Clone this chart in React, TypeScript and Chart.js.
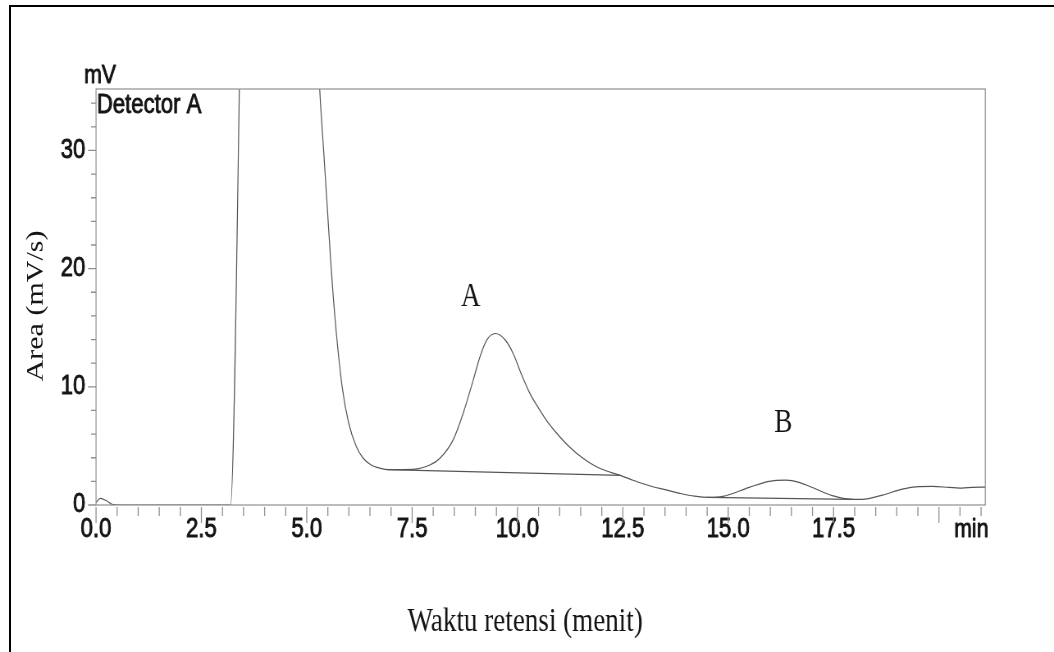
import { useEffect, useRef } from 'react';
import { Chart, registerables } from 'chart.js';

Chart.register(...registerables);

// Retention time (min) and detector response (mV) of the chromatogram trace.
// The solvent front rises far above the plotted range and is clipped.
const retentionTime = [
  0, 0.1, 0.25, 0.4, 0.6, 3.0, 3.19, 3.42, 3.7, 4.2, 4.6, 4.9, 5.15, 5.31,
  5.4, 5.49, 5.58, 5.69, 5.84, 5.99, 6.17, 6.33, 6.52, 6.75, 6.95, 7.52, 7.92,
  8.16, 8.47, 8.71, 8.95, 9.11, 9.27, 9.48, 9.7, 9.9, 10.1, 10.3, 10.5, 10.7,
  10.9, 11.1, 11.3, 11.5, 11.7, 11.9, 12.1, 12.4, 12.7, 13.0, 13.4, 13.85,
  14.2, 14.55, 14.87, 15.5, 15.97, 16.37, 16.68, 17.08, 17.47, 17.87, 18.18,
  18.66, 19.13, 19.45, 19.84, 20.24, 20.55, 20.79, 21.1,
];
const detectorSignal = [
  0.2, 0.56, 0.36, 0.03, 0, 0, 0, 40, 120, 210, 190, 120, 48, 35,
  30, 25, 20, 15, 10, 7, 5, 4, 3.4, 3.1, 3.0, 3.02, 3.38,
  3.95, 5.49, 7.75, 10.57, 12.54, 13.95, 14.51, 14.0, 12.8, 11.0, 9.4, 8.2, 7.1,
  6.2, 5.4, 4.7, 4.1, 3.6, 3.2, 2.9, 2.55, 2.15, 1.78, 1.38, 0.99,
  0.75, 0.65, 0.73, 1.49, 2.0, 2.1, 1.91, 1.35, 0.79, 0.5, 0.48,
  0.84, 1.35, 1.54, 1.57, 1.49, 1.43, 1.49, 1.52,
];

// Integration baselines under peak A and peak B
const baselineATime = [6.9, 12.45];
const baselineASignal = [3.0, 2.5];
const baselineBTime = [14.5, 17.95];
const baselineBSignal = [0.65, 0.48];

// Axis ranges, steps and labels
const xAxisMax = 21.1;
const yAxisMax = 35.2;
const xMajorStep = 2.5;
const xMinorStep = 0.5;
const yMajorStep = 10;
const yMinorStep = 2;
const xTickLabels = ['0.0', '2.5', '5.0', '7.5', '10.0', '12.5', '15.0', '17.5'];
const yTickLabels = ['0', '10', '20', '30'];

// Peak names and where they sit (time, response at text baseline)
const peakNames = ['A', 'B'];
const peakNameTime = [8.89, 16.31];
const peakNameLevel = [16.8, 6.17];

// Page geometry: the drawing is rendered wide and shown horizontally condensed
const PAGE_W = 1054;
const PAGE_H = 652;
const SQUASH = 0.82;
const CANVAS_W = Math.round(PAGE_W / SQUASH);
const sx = (px: number) => px / SQUASH;

const PLOT_LEFT = 96;
const PLOT_RIGHT = 985;
const PLOT_TOP = 89;
const PLOT_BOTTOM = 505;

const SANS = "'Liberation Sans Narrow', 'Liberation Sans', Arial, sans-serif";
const SERIF = "'Liberation Serif', 'Times New Roman', serif";
const TRACE = '#555555';
const FRAME = '#8f8f8f';
const INK = '#141414';
const LABEL_STROKE = 0.9;

const toPoints = (xs: number[], ys: number[]) => xs.map((x, i) => ({ x, y: ys[i] }));

const isMultiple = (v: number, step: number) => Math.abs(v / step - Math.round(v / step)) < 1e-6;

// Instrument-style caption: filled and lightly stroked so it reads heavier
const caption = (ctx: CanvasRenderingContext2D, text: string, px: number, py: number) => {
  ctx.fillText(text, px, py);
  ctx.strokeText(text, px, py);
};

const decorations = {
  id: 'decorations',
  afterDraw(chart: any) {
    const { ctx, chartArea: a } = chart;
    const x = chart.scales.x;
    const y = chart.scales.y;
    ctx.save();

    // plot frame
    ctx.strokeStyle = FRAME;
    ctx.lineWidth = 1.2;
    ctx.strokeRect(a.left, a.top, a.right - a.left, a.bottom - a.top);

    // x tick marks
    ctx.beginPath();
    for (let v = 0; v <= xAxisMax + 1e-9; v += xMinorStep) {
      const px = x.getPixelForValue(v);
      const len = isMultiple(v, xMajorStep) ? 16 : 9;
      ctx.moveTo(px, a.bottom + 2);
      ctx.lineTo(px, a.bottom + 2 + len);
    }
    // y tick marks
    for (let v = 0; v <= yAxisMax + 1e-9; v += yMinorStep) {
      const py = y.getPixelForValue(v);
      const len = isMultiple(v, yMajorStep) ? sx(8) : sx(5);
      ctx.moveTo(a.left, py);
      ctx.lineTo(a.left - len, py);
    }
    ctx.lineWidth = 1.3;
    ctx.stroke();

    ctx.fillStyle = INK;
    ctx.strokeStyle = INK;
    ctx.lineWidth = LABEL_STROKE;
    ctx.lineJoin = 'round';

    // unit and detector captions
    ctx.font = `26px ${SANS}`;
    ctx.textAlign = 'center';
    ctx.textBaseline = 'alphabetic';
    caption(ctx, 'mV', sx(100), 83);
    caption(ctx, 'min', sx(971), 537);
    ctx.font = `27px ${SANS}`;
    ctx.textAlign = 'left';
    caption(ctx, 'Detector A', a.left + 1, 113);

    // peak names
    ctx.font = `33px ${SERIF}`;
    ctx.textAlign = 'center';
    peakNames.forEach((name, i) => {
      ctx.fillText(name, x.getPixelForValue(peakNameTime[i]), y.getPixelForValue(peakNameLevel[i]));
    });

    // axis titles
    ctx.fillText('Waktu retensi (menit)', sx(525), 631);
    ctx.translate(sx(42.6), 306);
    ctx.rotate(-Math.PI / 2);
    ctx.font = `30px ${SERIF}`;
    ctx.fillText('Area (mV/s)', 0, 0);

    ctx.restore();
  },
};

export default function App() {
  const canvasRef = useRef<HTMLCanvasElement>(null);

  useEffect(() => {
    const canvas = canvasRef.current;
    if (!canvas) return;
    const line = {
      showLine: true,
      borderColor: TRACE,
      borderWidth: 1.2,
      pointRadius: 0,
      fill: false,
    };
    const tickFont = { family: SANS, size: 27 };
    const chart = new Chart(canvas, {
      type: 'scatter',
      data: {
        datasets: [
          {
            ...line,
            label: 'Detector A',
            data: toPoints(retentionTime, detectorSignal),
            cubicInterpolationMode: 'monotone',
          },
          { ...line, label: 'Baseline A', data: toPoints(baselineATime, baselineASignal) },
          { ...line, label: 'Baseline B', data: toPoints(baselineBTime, baselineBSignal) },
        ],
      },
      options: {
        responsive: false,
        animation: false,
        devicePixelRatio: 1,
        events: [],
        layout: {
          padding: { top: PLOT_TOP, right: CANVAS_W - sx(PLOT_RIGHT), left: 0, bottom: 0 },
        },
        plugins: {
          legend: { display: false },
          tooltip: { enabled: false },
        },
        scales: {
          x: {
            type: 'linear',
            min: 0,
            max: xAxisMax,
            afterFit: (s: any) => {
              s.height = PAGE_H - PLOT_BOTTOM;
            },
            grid: { display: false, drawTicks: false },
            border: { display: false },
            ticks: {
              stepSize: xMajorStep,
              autoSkip: false,
              maxRotation: 0,
              padding: 8,
              color: INK,
              textStrokeColor: INK,
              textStrokeWidth: LABEL_STROKE,
              font: tickFont,
              callback: (v: any) => {
                const i = Math.round(Number(v) / xMajorStep);
                return isMultiple(Number(v), xMajorStep) && i < xTickLabels.length ? xTickLabels[i] : '';
              },
            },
          },
          y: {
            type: 'linear',
            min: 0,
            max: yAxisMax,
            afterFit: (s: any) => {
              s.width = sx(PLOT_LEFT);
            },
            grid: { display: false, drawTicks: false },
            border: { display: false },
            ticks: {
              stepSize: yMajorStep,
              autoSkip: false,
              padding: 13,
              color: INK,
              textStrokeColor: INK,
              textStrokeWidth: LABEL_STROKE,
              font: tickFont,
              callback: (v: any) => {
                const i = Math.round(Number(v) / yMajorStep);
                return isMultiple(Number(v), yMajorStep) && i < yTickLabels.length ? yTickLabels[i] : '';
              },
            },
          },
        },
      } as any,
      plugins: [decorations],
    });
    return () => chart.destroy();
  }, []);

  return (
    <div
      style={{
        position: 'absolute',
        left: 0,
        top: 0,
        width: PAGE_W,
        height: PAGE_H,
        overflow: 'hidden',
        background: '#fff',
      }}
    >
      <div
        style={{
          position: 'absolute',
          left: 9,
          top: 5,
          right: -10,
          bottom: -10,
          borderLeft: '2px solid #000',
          borderTop: '2px solid #000',
        }}
      />
      <canvas
        ref={canvasRef}
        width={CANVAS_W}
        height={PAGE_H}
        style={{ position: 'absolute', left: 0, top: 0, width: PAGE_W, height: PAGE_H }}
      />
    </div>
  );
}
